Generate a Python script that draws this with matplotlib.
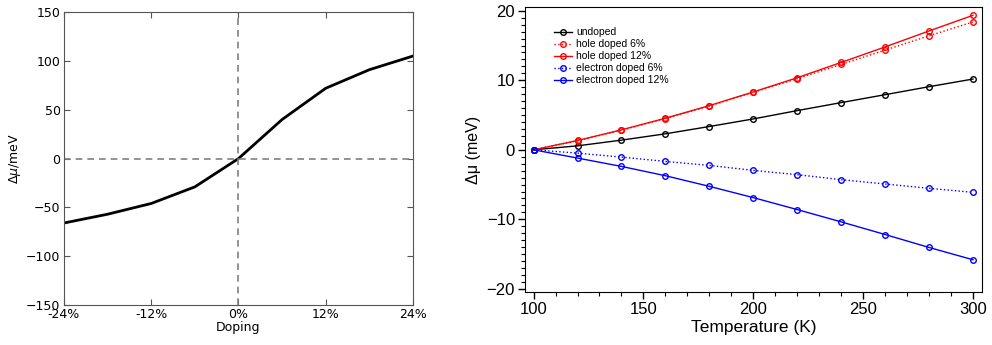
import matplotlib
matplotlib.use("Agg")
import matplotlib.pyplot as plt
from matplotlib.ticker import MultipleLocator

# Left panel data
doping = [-24, -18, -12, -6, 0, 6, 12, 18, 24]
dmu_doping = [-66, -57, -46, -29, 0, 40, 72, 91, 105]
doping_ticks = [-24, -12, 0, 12, 24]
doping_labels = ['-24%', '-12%', '0%', '12%', '24%']

# Right panel data
temperature = [100, 120, 140, 160, 180, 200, 220, 240, 260, 280, 300]
undoped = [0, 0.57, 1.39, 2.3, 3.35, 4.44, 5.64, 6.79, 7.93, 9.08, 10.18]
hole6 = [0, 1.3, 2.82, 4.5, 6.3, 8.27, 10.23, 12.28, 14.34, 16.4, 18.4]
hole12 = [0, 1.34, 2.87, 4.54, 6.36, 8.32, 10.37, 12.57, 14.8, 17.1, 19.35]
elec6 = [0, -0.48, -1.05, -1.67, -2.25, -2.96, -3.58, -4.3, -4.92, -5.54, -6.12]
elec12 = [0, -1.19, -2.39, -3.73, -5.26, -6.88, -8.6, -10.37, -12.19, -14.05, -15.82]

fig = plt.figure(figsize=(9.92, 3.45), dpi=100)

# ---------- Left panel ----------
ax1 = fig.add_axes([0.0645, 0.1159, 0.3518, 0.849])
ax1.plot(doping, dmu_doping, color='black', lw=2)
ax1.axhline(0, color='gray', ls='--', lw=1.2, dashes=(4, 3))
ax1.axvline(0, color='gray', ls='--', lw=1.2, dashes=(4, 3))
ax1.set_xlim(-24, 24)
ax1.set_ylim(-150, 150)
ax1.set_xticks(doping_ticks)
ax1.set_xticklabels(doping_labels)
ax1.set_yticks([-150, -100, -50, 0, 50, 100, 150])
ax1.tick_params(direction='in', top=True, right=True, length=4, width=0.8,
                labelsize=9, color='#555555', pad=2.5)
for s in ax1.spines.values():
    s.set_color('#555555')
ax1.set_xlabel('Doping', fontsize=9, labelpad=0)
ax1.set_ylabel(r'$\Delta\mu$/meV', fontsize=9, labelpad=2)

# ---------- Right panel ----------
ff = 'Liberation Sans'
ax2 = fig.add_axes([0.529, 0.1528, 0.4607, 0.826])
mk = dict(marker='o', mfc='none', ms=4, mew=1.0, lw=1.0)
ax2.plot(temperature, undoped, color='black', ls='-', label='undoped', **mk)
ax2.plot(temperature, hole6, color='red', ls=':', label='hole doped 6%', **mk)
ax2.plot(temperature, hole12, color='red', ls='-', label='hole doped 12%', **mk)
ax2.plot(temperature, elec6, color='blue', ls=':', label='electron doped 6%', **mk)
ax2.plot(temperature, elec12, color='blue', ls='-', label='electron doped 12%', **mk)
ax2.set_xlim(96, 304)
ax2.set_ylim(-20.5, 20.5)
ax2.set_xticks([100, 150, 200, 250, 300])
ax2.set_yticks([-20, -10, 0, 10, 20])
ax2.xaxis.set_minor_locator(MultipleLocator(10))
ax2.yaxis.set_minor_locator(MultipleLocator(1))
ax2.tick_params(which='major', direction='out', length=5, width=1, labelsize=12, pad=2)
ax2.tick_params(which='minor', direction='out', length=3, width=0.8)
for lab in ax2.get_xticklabels() + ax2.get_yticklabels():
    lab.set_family(ff)
ax2.set_xlabel('Temperature (K)', fontsize=12.5, family=ff, labelpad=2)
ax2.set_ylabel('Δμ (meV)', fontsize=11.5, family=ff, labelpad=4)
leg = ax2.legend(loc='upper left', bbox_to_anchor=(0.055, 0.945), frameon=False,
                 prop={'family': ff, 'size': 7.5}, handlelength=1.7,
                 handletextpad=0.45, labelspacing=0.2, borderaxespad=0)

fig.savefig('out.png', dpi=100)
